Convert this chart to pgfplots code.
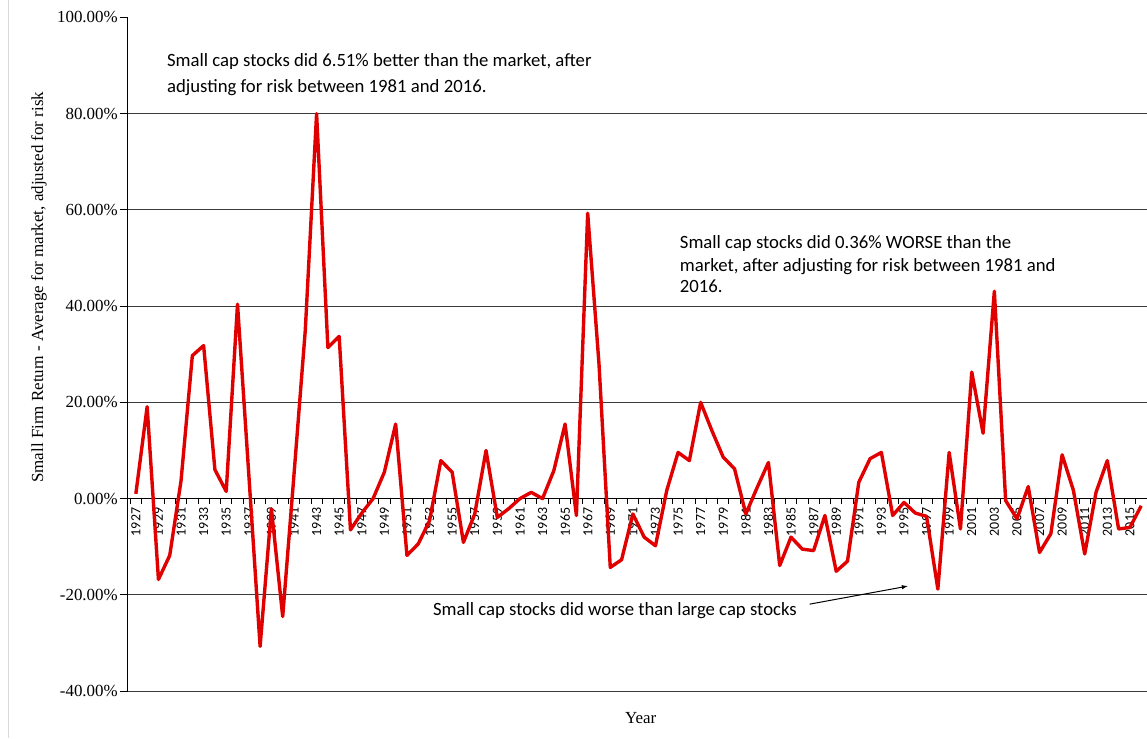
\documentclass[border=0pt]{standalone}
\usepackage{fontspec}
\setmainfont{Liberation Serif}
\newfontfamily\carlito{Carlito}
\usepackage{pgfplots}
\pgfplotsset{compat=1.18}
\definecolor{linered}{RGB}{225,0,0}
\definecolor{gridgray}{RGB}{60,60,60}

\begin{document}
\begin{tikzpicture}
\begin{axis}[
    scale only axis,
    width=1019bp, height=674bp,
    xmin=1926.3, xmax=2016.47,
    ymin=-40, ymax=100,
    axis x line*=middle,
    axis y line*=left,
    axis line style={black, line width=0.9bp},
    tick align=outside,
    xtick={1927,1929,...,2015},
    minor xtick={1926.5,1927.5,...,2016.5},
    major x tick style={draw=none},
    minor tick length=5bp,
    major tick length=8bp,
    tick style={black, line width=0.8bp},
    ytick={-40,-20,...,80},
    yticklabels={-40.00\%,-20.00\%,0.00\%,20.00\%,40.00\%,60.00\%,80.00\%},
    extra y ticks={100},
    extra y tick labels={100.00\%},
    extra y tick style={grid=none},
    ymajorgrids,
    grid style={gridgray, line width=1bp},
    /pgf/number format/1000 sep={},
    /pgf/number format/assume math mode=true,
    xticklabel style={font=\carlito\fontsize{14}{14}\selectfont, rotate=90, anchor=east, inner sep=1bp},
    yticklabel style={font=\fontsize{17}{17}\selectfont, inner sep=2bp},
]
\addplot[color=linered, line width=3.4bp, line join=round] coordinates {
(1927,1.0)(1928,19.1)(1929,-16.8)(1930,-11.8)(1931,3.7)(1932,29.7)(1933,31.8)
(1934,6.0)(1935,1.5)(1936,40.4)(1937,5.0)(1938,-30.7)(1939,-2.1)(1940,-24.5)
(1941,5.0)(1942,35.0)(1943,80.0)(1944,31.4)(1945,33.7)(1946,-6.5)(1947,-3.0)
(1948,0.0)(1949,5.5)(1950,15.5)(1951,-11.8)(1952,-9.4)(1953,-4.6)(1954,7.9)
(1955,5.5)(1956,-9.1)(1957,-3.2)(1958,10.0)(1959,-3.9)(1960,-2.1)(1961,0.0)
(1962,1.3)(1963,0.0)(1964,5.8)(1965,15.5)(1966,-3.5)(1967,59.3)(1968,28.0)
(1969,-14.3)(1970,-12.7)(1971,-3.2)(1972,-8.0)(1973,-9.8)(1974,1.7)(1975,9.6)
(1976,7.9)(1977,20.0)(1978,14.1)(1979,8.6)(1980,6.2)(1981,-3.2)(1982,2.3)
(1983,7.5)(1984,-13.9)(1985,-8.0)(1986,-10.5)(1987,-10.8)(1988,-3.5)(1989,-15.1)
(1990,-13.0)(1991,3.4)(1992,8.3)(1993,9.6)(1994,-3.5)(1995,-0.8)(1996,-3.0)
(1997,-3.7)(1998,-18.8)(1999,9.6)(2000,-6.3)(2001,26.3)(2002,13.6)(2003,43.1)
(2004,-0.4)(2005,-4.2)(2006,2.5)(2007,-11.2)(2008,-7.3)(2009,9.1)(2010,1.7)
(2011,-11.5)(2012,1.3)(2013,7.9)(2014,-6.3)(2015,-6.0)(2016,-1.5)
};
\coordinate (tl) at (rel axis cs:0,1);
\end{axis}

% page frame and faint left border
\path ([shift={(-128bp,17bp)}]tl) rectangle ([shift={(1019bp,-721bp)}]tl);
\draw[black!15, line width=0.8bp] ([shift={(-120bp,17bp)}]tl) -- ([shift={(-120bp,-721bp)}]tl);

% axis titles
\node[rotate=90, font=\fontsize{17}{17}\selectfont] at ([shift={(-89bp,-270bp)}]tl)
    {Small Firm Return - Average for market, adjusted for risk};
\node[font=\fontsize{17}{17}\selectfont] at ([shift={(513bp,-701bp)}]tl) {Year};

% annotations
\begin{scope}[every node/.style={anchor=base west, inner sep=0pt, font=\carlito\fontsize{18.8}{20}\selectfont}]
\node at ([shift={(39bp,-49bp)}]tl) {Small cap stocks did 6.51\% better than the market, after};
\node at ([shift={(39bp,-75bp)}]tl) {adjusting for risk between 1981 and 2016.};
\node at ([shift={(552bp,-231bp)}]tl) {Small cap stocks did 0.36\% WORSE than the};
\node at ([shift={(552bp,-254bp)}]tl) {market, after adjusting for risk between 1981 and};
\node at ([shift={(552bp,-275bp)}]tl) {2016.};
\node at ([shift={(305bp,-598bp)}]tl) {Small cap stocks did worse than large cap stocks};
\end{scope}
\draw[-latex, line width=1bp] ([shift={(682bp,-587bp)}]tl) -- ([shift={(780bp,-569bp)}]tl);
\end{tikzpicture}
\end{document}
